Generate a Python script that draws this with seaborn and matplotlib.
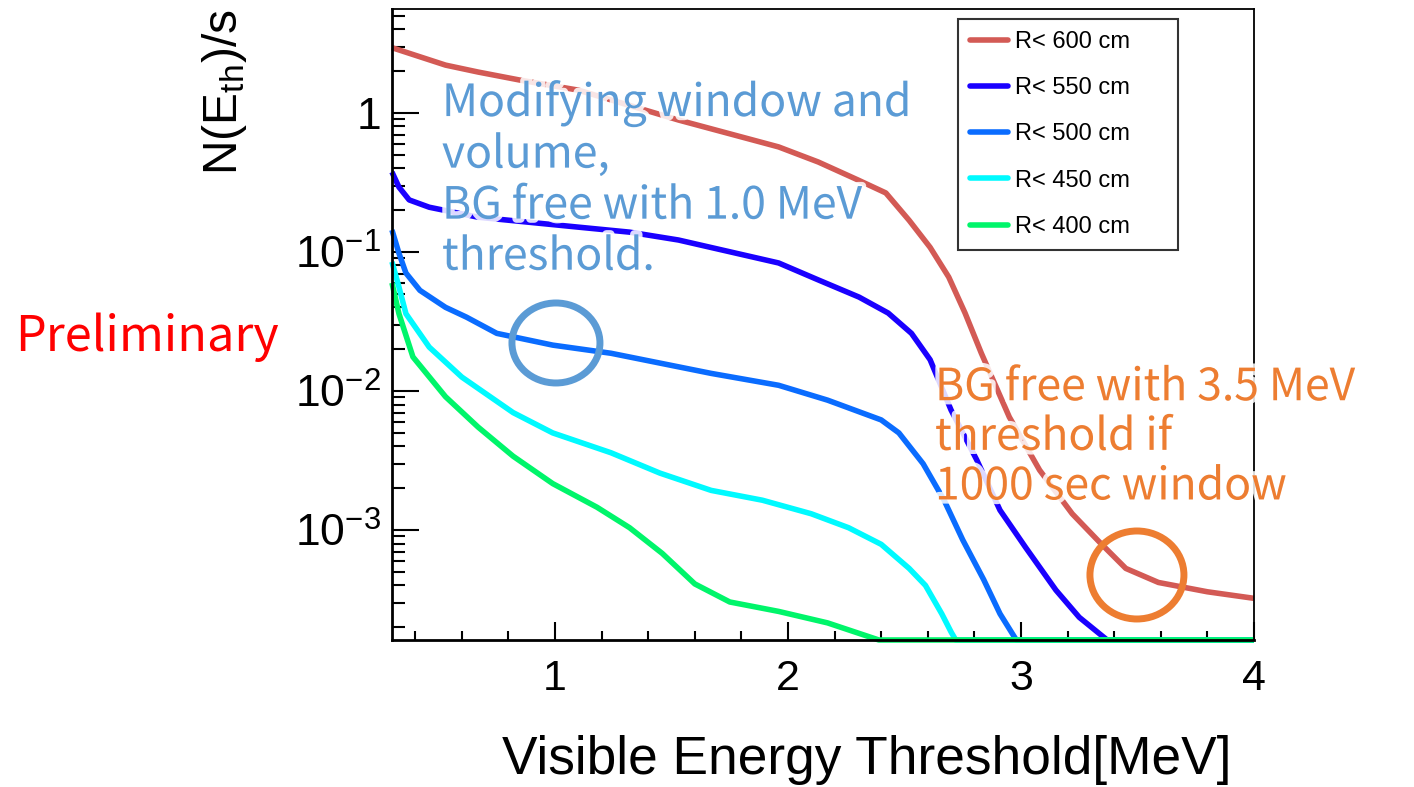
import numpy as np
import pandas as pd
import matplotlib
matplotlib.use("Agg")
import matplotlib.pyplot as plt
import matplotlib.patheffects as pe
from matplotlib.patches import Ellipse
from matplotlib.lines import Line2D
import seaborn as sns

# ---------------- data ----------------
FLOOR = 1.62e-4

x_600 = [0.30, 0.53, 0.67, 0.845, 1.10, 1.53, 1.96, 2.13, 2.30, 2.42, 2.52, 2.61, 2.69, 2.76, 2.83,
         2.95, 3.08, 3.22, 3.34, 3.45, 3.59, 3.80, 4.00]
y_600 = [2.95, 2.21, 1.97, 1.73, 1.46, 0.89, 0.57, 0.444, 0.33, 0.266, 0.169, 0.108, 0.066, 0.0364, 0.0187,
         0.0065, 0.0027, 0.00131, 0.00081, 0.00053, 0.00042, 0.00036, 0.000323]

x_550 = [0.30, 0.33, 0.374, 0.46, 0.67, 1.10, 1.32, 1.53, 1.96, 2.13, 2.305, 2.43, 2.53, 2.61, 2.70,
         2.81, 2.91, 3.02, 3.15, 3.25, 3.37, 4.00]
y_550 = [0.376, 0.293, 0.237, 0.21, 0.178, 0.151, 0.139, 0.122, 0.0834, 0.063, 0.0474, 0.0364, 0.026, 0.0168, 0.0073,
         0.0032, 0.00139, 0.00075, 0.00037, 0.000236, FLOOR, FLOOR]

x_500 = [0.30, 0.33, 0.36, 0.42, 0.53, 0.62, 0.75, 0.99, 1.24, 1.67, 1.96, 2.17, 2.40, 2.476, 2.58,
         2.67, 2.75, 2.84, 2.91, 2.98, 4.00]
y_500 = [0.144, 0.098, 0.0706, 0.053, 0.040, 0.034, 0.026, 0.0214, 0.0187, 0.0134, 0.011, 0.0086, 0.0062, 0.0050, 0.0030,
         0.00164, 0.00085, 0.00044, 0.00025, FLOOR, FLOOR]

x_450 = [0.30, 0.33, 0.36, 0.46, 0.60, 0.82, 0.99, 1.24, 1.45, 1.67, 1.89, 2.10, 2.26, 2.40, 2.52,
         2.59, 2.66, 2.70, 2.72, 4.00]
y_450 = [0.085, 0.056, 0.036, 0.0207, 0.0126, 0.0070, 0.0050, 0.0036, 0.00257, 0.00193, 0.00164, 0.00131, 0.00104, 0.00079, 0.00053,
         0.00040, 0.00025, 0.000185, FLOOR, FLOOR]

x_400 = [0.30, 0.33, 0.39, 0.53, 0.67, 0.82, 0.99, 1.18, 1.32, 1.46, 1.60, 1.75, 1.96, 2.17, 2.39, 4.00]
y_400 = [0.06, 0.036, 0.0176, 0.0091, 0.0055, 0.0034, 0.00216, 0.00146, 0.00104, 0.00068, 0.00041, 0.000304, 0.00026, 0.000215, FLOOR, FLOOR]

series_names = ["R< 600 cm", "R< 550 cm", "R< 500 cm", "R< 450 cm", "R< 400 cm"]
series_x = [x_600, x_550, x_500, x_450, x_400]
series_y = [y_600, y_550, y_500, y_450, y_400]
series_colors = ["#d35a55", "#1a00ff", "#0a6cff", "#00faff", "#00f56a"]

xticks = [1, 2, 3, 4]
xtick_labels = ["1", "2", "3", "4"]
yticks = [1e-3, 1e-2, 1e-1, 1]
ytick_labels = [r"$10^{-3}$", r"$10^{-2}$", r"$10^{-1}$", "1"]

note_blue = "Modifying window and\nvolume,\nBG free with 1.0 MeV\nthreshold."
note_orange = "BG free with 3.5 MeV\nthreshold if\n1000 sec window"

# ---------------- frame ----------------
df = pd.concat([pd.DataFrame({"E": xs, "N": ys, "R": name})
                for name, xs, ys in zip(series_names, series_x, series_y)],
               ignore_index=True)

sns.set_theme(style="white")
plt.rcParams["font.family"] = ["Liberation Sans", "DejaVu Sans"]
plt.rcParams["mathtext.fontset"] = "custom"
plt.rcParams["mathtext.rm"] = "Liberation Sans"
plt.rcParams["mathtext.it"] = "Liberation Sans:italic"
plt.rcParams["mathtext.bf"] = "Liberation Sans:bold"
plt.rcParams["text.color"] = "black"
plt.rcParams["axes.labelcolor"] = "black"
plt.rcParams["xtick.color"] = "black"
plt.rcParams["ytick.color"] = "black"

fig = plt.figure(figsize=(14.14, 7.87), dpi=100)
ax = fig.add_axes([0.2772, 0.1868, 0.6096, 0.8018])

pal = dict(zip(series_names, series_colors))
sns.lineplot(data=df, x="E", y="N", hue="R", palette=pal, hue_order=series_names,
             estimator=None, sort=False, lw=4.0, ax=ax, legend=False)
for ln in ax.lines:
    ln.set_clip_on(False)
    ln.set_solid_capstyle("butt")
    ln.set_solid_joinstyle("round")

ax.set_yscale("log")
ax.set_xlim(0.3, 4.0)
ax.set_ylim(FLOOR, 5.6)

ax.set_xticks(xticks)
ax.set_xticklabels(xtick_labels)
ax.set_xticks(np.arange(0.4, 4.0, 0.2), minor=True)
ax.set_yticks(yticks)
ax.set_yticklabels(ytick_labels)
ax.yaxis.set_minor_locator(matplotlib.ticker.LogLocator(base=10, subs=np.arange(2, 10)))
ax.yaxis.set_minor_formatter(matplotlib.ticker.NullFormatter())

ax.tick_params(which="both", bottom=True, left=True, top=False, right=False)
ax.tick_params(axis="x", which="major", direction="in", length=13, width=1.5, labelsize=31, pad=14)
ax.tick_params(axis="x", which="minor", direction="in", length=6.5, width=1.5)
ax.tick_params(axis="y", which="major", direction="in", length=19.5, width=1.5, labelsize=32, pad=8)
ax.tick_params(axis="y", which="minor", direction="in", length=9.5, width=1.5)
for s in ax.spines.values():
    s.set_color("black")
    s.set_linewidth(1.3)
ax.spines["bottom"].set_linewidth(2.0)
ax.spines["left"].set_linewidth(2.0)

ax.set_xlabel("Visible Energy Threshold[MeV]", fontsize=38.3)
ax.xaxis.set_label_coords(0.551, -0.151)
ax.set_ylabel(r"N(E$_{\mathrm{th}}$)/s", fontsize=34.5, loc="top")
ax.yaxis.set_label_coords(-0.166, 1.0)

# legend
handles = [Line2D([0], [0], color=c, lw=4.0) for c in series_colors]
leg_top = 1 - (19 - 9) / 631
leg = ax.legend(handles, series_names, loc="upper left",
                bbox_to_anchor=((958 - 392) / 862, leg_top - 0.01, (1178 - 958) / 862, 0.01),
                mode="expand", fontsize=17, frameon=True, fancybox=False, handlelength=1.6,
                labelspacing=1.03, borderpad=0.5, handletextpad=0.3, borderaxespad=0)
leg.get_frame().set_edgecolor("black")
leg.get_frame().set_linewidth(1.5)

# annotations
halo = [pe.withStroke(linewidth=6, foreground=(1, 1, 1, 0.85))]
ax.text(0.058, 0.888, note_blue, transform=ax.transAxes, ha="left", va="top",
        fontsize=32, color="#5b9bd5", linespacing=1.14,
        family=["Noto Sans CJK JP", "DejaVu Sans"], path_effects=halo, zorder=5)
ax.text(0.630, 0.437, note_orange, transform=ax.transAxes, ha="left", va="top",
        fontsize=32, color="#ed7d31", linespacing=1.1,
        family=["Noto Sans CJK JP", "DejaVu Sans"], path_effects=halo, zorder=5)

ax.add_patch(Ellipse(((556 - 392) / 862, 1 - (343 - 9) / 631), width=88 / 862, height=80 / 631,
                     transform=ax.transAxes, fill=False, lw=5, edgecolor="#5b9bd5", zorder=6))
ax.add_patch(Ellipse(((1137 - 392) / 862, 1 - (575 - 9) / 631), width=94 / 862, height=88 / 631,
                     transform=ax.transAxes, fill=False, lw=5, edgecolor="#ed7d31", zorder=6))

fig.text(15 / 1414, 1 - 337 / 787, "Preliminary", ha="left", va="center", fontsize=35,
         color="#ff0000", family=["Noto Sans CJK JP", "DejaVu Sans"])

fig.savefig("out.png", dpi=100, facecolor="white")
